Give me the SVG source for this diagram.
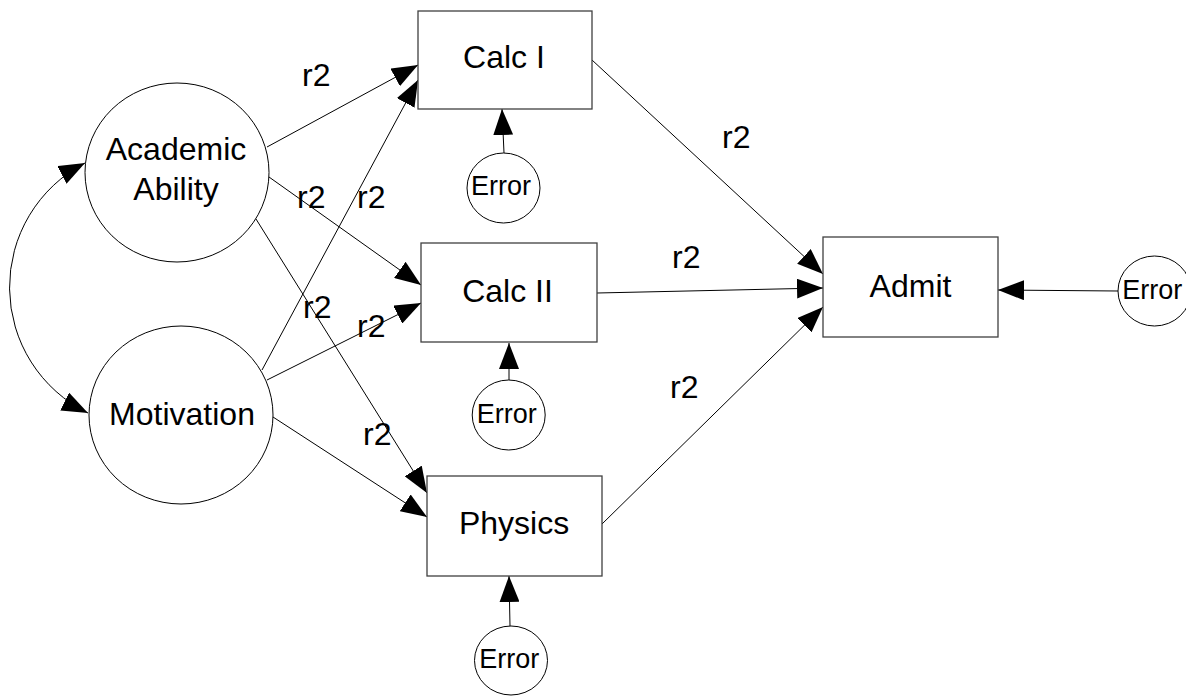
<svg xmlns="http://www.w3.org/2000/svg" width="1186" height="696" viewBox="0 0 1186 696">
<style>
  .box { fill: #ffffff; stroke: #404040; stroke-width: 1.3; }
  .node { fill: #ffffff; stroke: #000000; stroke-width: 1; }
  .lbl { font-family: "Liberation Sans", Arial, sans-serif; font-size: 32px; fill: #000; text-anchor: middle; }
  .err { font-family: "Liberation Sans", Arial, sans-serif; font-size: 27px; fill: #000; text-anchor: middle; }
  .r2 { font-family: "Liberation Sans", Arial, sans-serif; font-size: 32px; fill: #000; }
  .edge { fill: none; stroke: #000; stroke-width: 1; marker-end: url(#arrow); }
</style>
<defs>
  <marker id="arrow" markerUnits="userSpaceOnUse" markerWidth="26" markerHeight="20" viewBox="0 0 26 20" refX="26" refY="10" orient="auto-start-reverse">
    <path d="M0,0 L26,10 L0,20 z" fill="#000"/>
  </marker>
</defs>
<rect width="1186" height="696" fill="#ffffff"/>

<g id="connectors">
  <path class="edge" d="M85,163 A140,140 0 0 0 88,413" marker-start="url(#arrow)"/>
  <line class="edge" x1="267" y1="147" x2="418" y2="65"/>
  <line class="edge" x1="262" y1="370" x2="418" y2="80"/>
  <line class="edge" x1="269" y1="177" x2="421" y2="285"/>
  <line class="edge" x1="267" y1="380" x2="421" y2="303"/>
  <line class="edge" x1="256" y1="219" x2="427" y2="493"/>
  <line class="edge" x1="273" y1="417" x2="427" y2="517"/>
  <line class="edge" x1="592" y1="60" x2="823" y2="274"/>
  <line class="edge" x1="597" y1="293" x2="823" y2="288"/>
  <line class="edge" x1="602" y1="524" x2="823" y2="307"/>
  <line class="edge" x1="504" y1="153" x2="502" y2="109"/>
  <line class="edge" x1="509" y1="380" x2="509" y2="343"/>
  <line class="edge" x1="510" y1="626" x2="509" y2="576"/>
  <line class="edge" x1="1118" y1="291" x2="998" y2="290"/>
  <text class="r2" x="302" y="86">r2</text>
  <text class="r2" x="297" y="208">r2</text>
  <text class="r2" x="357" y="208">r2</text>
  <text class="r2" x="303" y="318">r2</text>
  <text class="r2" x="357" y="337">r2</text>
  <text class="r2" x="363" y="445">r2</text>
  <text class="r2" x="722" y="148">r2</text>
  <text class="r2" x="672" y="268">r2</text>
  <text class="r2" x="670" y="398">r2</text>
</g>

<g id="academic">
  <ellipse class="node" cx="177" cy="172.5" rx="92" ry="89.5"/>
  <text class="lbl" x="176" y="160">Academic</text>
  <text class="lbl" x="176" y="200">Ability</text>
</g>
<g id="motivation">
  <ellipse class="node" cx="181" cy="415" rx="92" ry="89"/>
  <text class="lbl" x="182" y="425">Motivation</text>
</g>
<g id="calc1">
  <rect class="box" x="418" y="11" width="174" height="98"/>
  <text class="lbl" x="504" y="68">Calc I</text>
</g>
<g id="calc2">
  <rect class="box" x="421" y="243" width="176" height="99"/>
  <text class="lbl" x="507.5" y="302">Calc II</text>
</g>
<g id="physics">
  <rect class="box" x="427" y="476" width="175" height="100"/>
  <text class="lbl" x="514" y="534">Physics</text>
</g>
<g id="admit">
  <rect class="box" x="823" y="237" width="175" height="100"/>
  <text class="lbl" x="910.5" y="297">Admit</text>
</g>
<g id="error1">
  <ellipse class="node" cx="503.5" cy="188" rx="36.5" ry="35"/>
  <text class="err" x="501" y="195">Error</text>
</g>
<g id="error2">
  <ellipse class="node" cx="508.7" cy="415" rx="36.5" ry="35"/>
  <text class="err" x="506.7" y="422.5">Error</text>
</g>
<g id="error3">
  <ellipse class="node" cx="511" cy="660.5" rx="36.5" ry="34.5"/>
  <text class="err" x="509.3" y="668">Error</text>
</g>
<g id="error4">
  <ellipse class="node" cx="1154.5" cy="291" rx="36.5" ry="35"/>
  <text class="err" x="1152.3" y="298.5">Error</text>
</g>
</svg>
